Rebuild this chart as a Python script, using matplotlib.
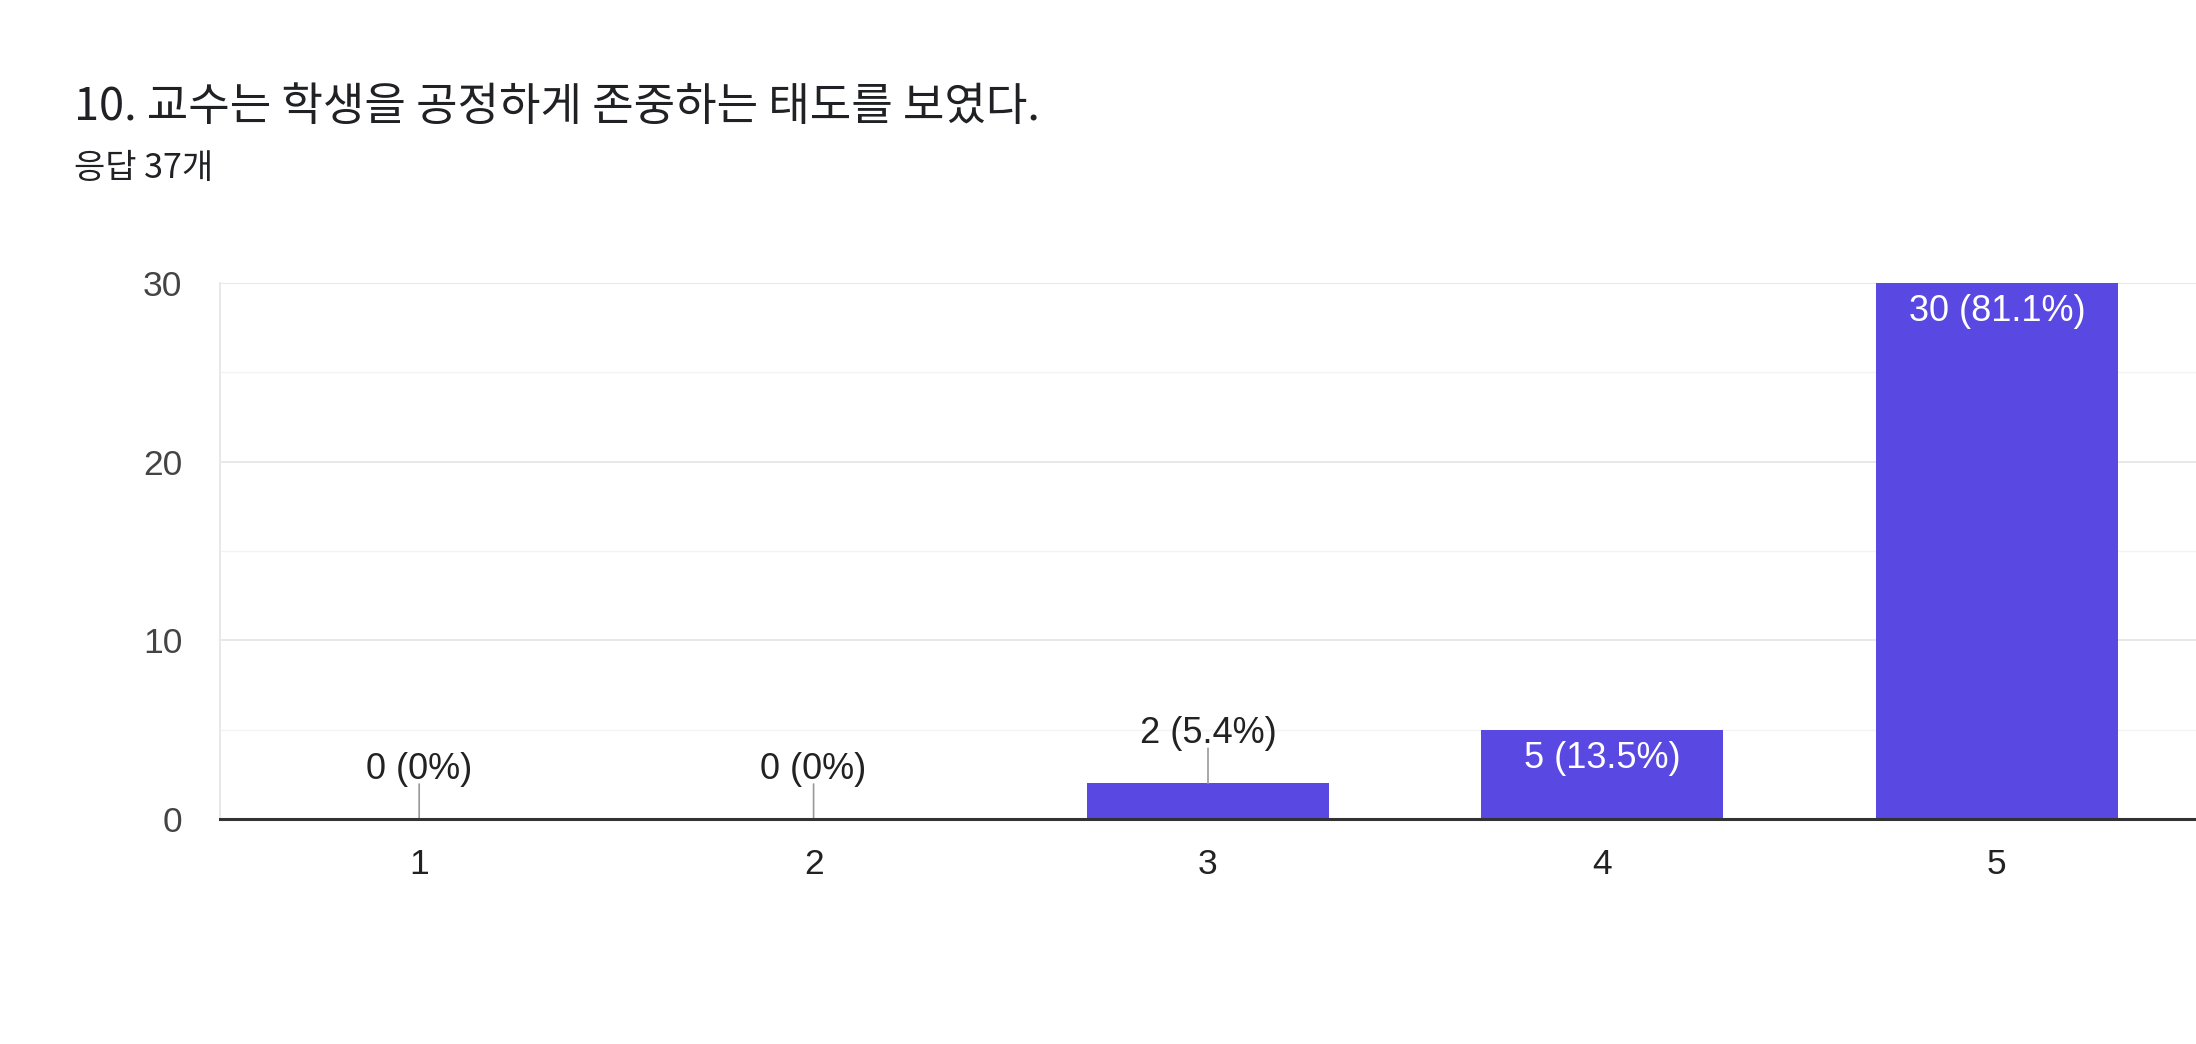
import matplotlib
matplotlib.use("Agg")
import matplotlib.pyplot as plt
from matplotlib.ticker import MultipleLocator

title = "10. 교수는 학생을 공정하게 존중하는 태도를 보였다."
subtitle = "응답 37개"
categories = ["1", "2", "3", "4", "5"]
counts = [0, 0, 2, 5, 30]
percents = ["0%", "0%", "5.4%", "13.5%", "81.1%"]
y_ticks = [0, 10, 20, 30]

BAR = "#5a48e3"
W, H = 2196, 1044
fig = plt.figure(figsize=(W / 100, H / 100), dpi=100)
fig.patch.set_facecolor("white")

num_font = ["Liberation Sans", "DejaVu Sans"]
kr_font = ["Noto Sans CJK KR", "DejaVu Sans"]

fig.text(74 / W, 1 - 120 / H, title, fontsize=32.5, family=kr_font,
         color="#202124", ha="left", va="baseline")
fig.text(74 / W, 1 - 178 / H, subtitle, fontsize=24.5, family=kr_font,
         color="#202124", ha="left", va="baseline")

ax = fig.add_axes([220 / W, 1 - 819 / H, 1 - 220 / W, (819 - 283) / H])
x = list(range(1, len(categories) + 1))
ax.bar(x, counts, width=0.614, color=BAR, zorder=3)

ax.set_xlim(0.495, 5.505)
ax.set_ylim(0, 30)
ax.set_xticks(x)
ax.set_xticklabels(categories)
ax.set_yticks(y_ticks)
ax.yaxis.set_minor_locator(MultipleLocator(5))
ax.tick_params(axis="x", length=0, pad=21, labelsize=25.5, labelcolor="#222222")
ax.tick_params(axis="y", which="both", length=0, pad=27, labelsize=25.5, labelcolor="#444444")
for lab in ax.get_xticklabels() + ax.get_yticklabels():
    lab.set_family(num_font)

ax.grid(axis="y", which="major", color="#e8e8e8", linewidth=1.4, zorder=0)
ax.grid(axis="y", which="minor", color="#f3f3f3", linewidth=1.0, zorder=0)
ax.set_axisbelow(True)

for side in ["top", "right"]:
    ax.spines[side].set_visible(False)
ax.spines["left"].set_color("#e8e8e8")
ax.spines["left"].set_linewidth(1.4)
ax.spines["bottom"].set_color("#333333")
ax.spines["bottom"].set_linewidth(2.2)
ax.spines["bottom"].set_zorder(4)

for xi, c, p in zip(x, counts, percents):
    label = f"{c} ({p})"
    if c < 4:
        ax.annotate("", xy=(xi, c), xytext=(0, 35), textcoords="offset pixels",
                    arrowprops=dict(arrowstyle="-", color="#999999", lw=1.2,
                                    shrinkA=0, shrinkB=0), zorder=4)
        ax.annotate(label, xy=(xi, c), xytext=(0, 40), textcoords="offset pixels",
                    ha="center", va="baseline", fontsize=26, family=num_font,
                    color="#222222", zorder=5)
    else:
        ax.annotate(label, xy=(xi, c), xytext=(0, -38), textcoords="offset pixels",
                    ha="center", va="baseline", fontsize=26, family=num_font,
                    color="white", zorder=5)

fig.savefig("out.png", dpi=100, facecolor="white")
